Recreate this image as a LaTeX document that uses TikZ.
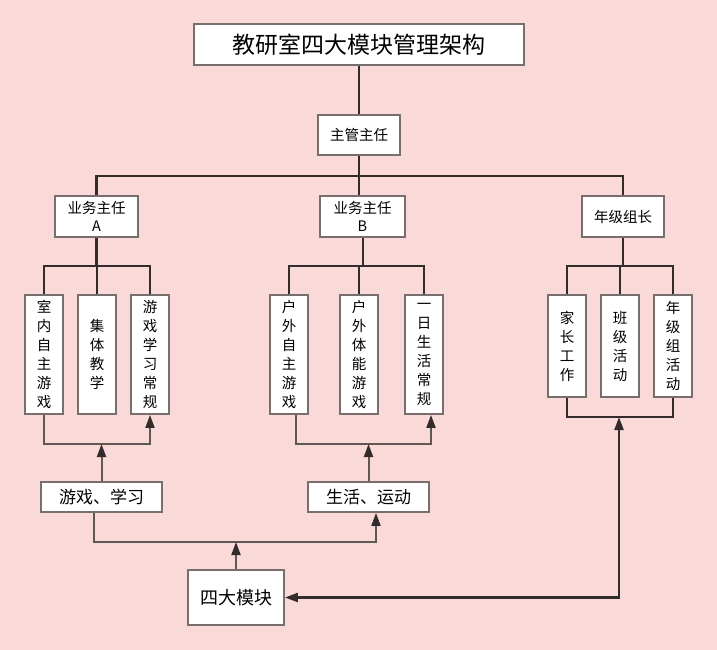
\documentclass[tikz,border=0pt]{standalone}
\usepackage{fontspec}
\newfontfamily\cjk{Noto Sans CJK SC}
\usetikzlibrary{arrows.meta}
\definecolor{orgbg}{RGB}{250,218,216}
\definecolor{orgedge}{RGB}{120,110,110}
\definecolor{orgline}{RGB}{52,44,44}
\definecolor{orgarrow}{RGB}{95,86,86}
\tikzset{
  box/.style={draw=orgedge, line width=1.8pt, fill=white, inner sep=0pt, align=center},
  vbox/.style={box, minimum width=38pt, font=\cjk\fontsize{14.5pt}{19pt}\selectfont},
  tree/.style={draw=orgline, line width=2.2pt},
  tip/.style={Triangle[length=13pt,width=9pt,color=orgline]},
  flow/.style={draw=orgarrow, line width=2pt, -{Triangle[length=13pt,width=9pt,color=orgline]}}
}

\begin{document}
\begin{tikzpicture}[x=1pt,y=-1pt]
  % ---- canvas ----
  \fill[orgbg] (0,0) rectangle (717,650);
  \useasboundingbox (0,0) rectangle (717,650);
  % ---- top of the tree ----
  \node[box, minimum width=330pt, minimum height=41pt, font=\cjk\fontsize{23pt}{27pt}\selectfont]
    (title) at (359,44.5) {教研室四大模块管理架构};
  \node[box, minimum width=82pt, minimum height=40pt, font=\cjk\fontsize{14.5pt}{17pt}\selectfont]
    (chief) at (359,135) {主管主任};
  \node[box, minimum width=83pt, minimum height=41pt, font=\cjk\fontsize{14.5pt}{18pt}\selectfont]
    (leadA) at (96.5,216.5) {业务主任\\A};
  \node[box, minimum width=85pt, minimum height=41pt, font=\cjk\fontsize{14.5pt}{18pt}\selectfont]
    (leadB) at (362.5,216.5) {业务主任\\B};
  \node[box, minimum width=82pt, minimum height=41pt, font=\cjk\fontsize{14.5pt}{18pt}\selectfont]
    (leadC) at (623,216.5) {年级组长};
  % ---- the nine duties ----
  \node[vbox, minimum height=119pt] (a1) at (44,354.5)  {室\\内\\自\\主\\游\\戏};
  \node[vbox, minimum height=119pt] (a2) at (97,354.5)  {集\\体\\教\\学};
  \node[vbox, minimum height=119pt] (a3) at (150,354.5) {游\\戏\\学\\习\\常\\规};
  \node[vbox, minimum height=119pt] (b1) at (289,354.5) {户\\外\\自\\主\\游\\戏};
  \node[vbox, minimum height=119pt] (b2) at (359,354.5) {户\\外\\体\\能\\游\\戏};
  \node[vbox, minimum height=119pt] (b3) at (424,354.5) {一\\日\\生\\活\\常\\规};
  \node[vbox, minimum height=102pt] (c1) at (567,346)   {家\\长\\工\\作};
  \node[vbox, minimum height=102pt] (c2) at (620,346)   {班\\级\\活\\动};
  \node[vbox, minimum height=102pt] (c3) at (673,346)   {年\\级\\组\\活\\动};
  % ---- modules ----
  \node[box, minimum width=121pt, minimum height=30pt, font=\cjk\fontsize{17pt}{20pt}\selectfont]
    (game) at (101.5,497) {游戏、学习};
  \node[box, minimum width=121pt, minimum height=30pt, font=\cjk\fontsize{17pt}{20pt}\selectfont]
    (life) at (368.5,497) {生活、运动};
  \node[box, minimum width=96pt, minimum height=55pt, font=\cjk\fontsize{18pt}{21pt}\selectfont]
    (mods) at (236,597.5) {四大模块};
  % ---- tree lines ----
  \coordinate (hub)  at (359,176);
  \coordinate (barA) at (96.5,266);
  \coordinate (barB) at (363,266);
  \coordinate (barC) at (623,266);
  \draw[tree] (title.south) -- (chief.north);
  \draw[tree] (chief.south) -- (chief.south |- leadB.north);
  \draw[tree] (leadA.north) |- (hub) -| (leadC.north);
  \draw[tree] (leadA.south) -- (barA);
  \draw[tree] (a1.north) |- (barA) -| (a3.north);
  \draw[tree] (a2.north) -- (a2.north |- barA);
  \draw[tree] (leadB.south -| barB) -- (barB);
  \draw[tree] (b1.north) |- (barB) -| (b3.north);
  \draw[tree] (b2.north) -- (b2.north |- barB);
  \draw[tree] (leadC.south) -- (barC);
  \draw[tree] (c1.north) |- (barC) -| (c3.north);
  \draw[tree] (c2.north) -- (c2.north |- barC);
  % ---- module arrows ----
  \coordinate (joinA) at (102,444);
  \coordinate (joinB) at (368.5,444);
  \coordinate (joinM) at (236,542);
  \coordinate (joinC) at (619,417);
  \draw[flow] (a1.south) |- (joinA) -| (a3.south);
  \draw[flow] (game.north) -- (game.north |- joinA);
  \draw[flow] ([xshift=7pt]b1.south) |- (joinB) -| ([xshift=7pt]b3.south);
  \draw[flow] (life.north) -- (life.north |- joinB);
  \draw[flow] ([xshift=-7.5pt]game.south) |- (joinM) -| ([xshift=7.5pt]life.south);
  \draw[flow] (mods.north) -- (joinM);
  \draw[tree] (c1.south) |- (joinC) -| (c3.south);
  \draw[tree, {Triangle[length=13pt,width=9pt]}-{Triangle[length=13pt,width=9pt]}]
    (mods.east) -| (joinC);
\end{tikzpicture}
\end{document}
